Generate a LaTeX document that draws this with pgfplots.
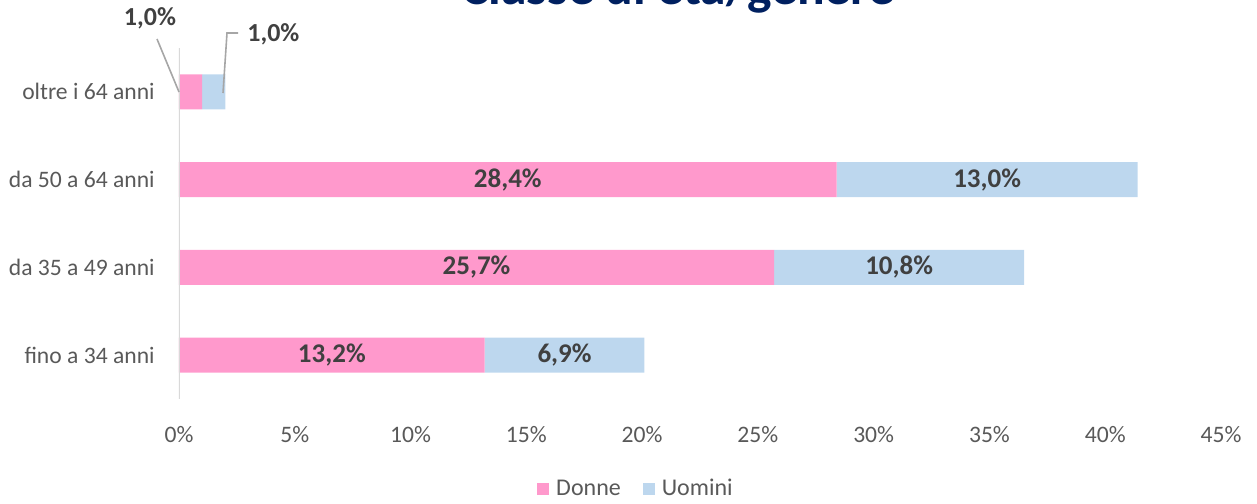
\documentclass[border=0pt]{standalone}
\usepackage{pgfplots}
\pgfplotsset{compat=1.18}
\usepackage{fontspec}
\setmainfont{Carlito}
\definecolor{donne}{HTML}{FF99CC}
\definecolor{uomini}{HTML}{BDD7EE}
\definecolor{txtgray}{HTML}{595959}
\definecolor{lblgray}{HTML}{404040}
\definecolor{axgray}{HTML}{D9D9D9}
\definecolor{leader}{HTML}{A6A6A6}
\definecolor{navy}{HTML}{002060}

\begin{document}
\begin{tikzpicture}
\useasboundingbox (-89.5pt,-52pt) rectangle (539pt,199.5pt);
\begin{axis}[
  scale only axis, width=521pt, height=175.5pt,
  xbar stacked, bar width=17.5pt,
  xmin=0, xmax=45, ymin=-0.5, ymax=3.5,
  axis line style={draw=none},
  major tick length=0pt,
  ytick={0,1,2,3},
  yticklabels={fino a 34 anni,da 35 a 49 anni,da 50 a 64 anni,oltre i 64 anni},
  xtick={0,5,...,45},
  xticklabel={\pgfmathprintnumber{\tick}\%},
  /pgf/number format/assume math mode=true,
  tick label style={font=\fontsize{11.8}{14}\selectfont, text=txtgray},
  xticklabel style={anchor=center, yshift=-18pt},
  yticklabel style={anchor=east, inner sep=0pt, xshift=-12pt},
  point meta=explicit symbolic,
  nodes near coords,
  every node near coord/.append style={anchor=center, font=\bfseries\fontsize{13.5}{16}\selectfont,
    text=lblgray},
  legend style={at={(axis description cs:0.4395,0)}, anchor=center, yshift=-45pt,
    draw=none, legend columns=2, font=\fontsize{12}{14}\selectfont, text=txtgray,
    /tikz/every even column/.append style={column sep=9pt}},
  legend image code/.code={\fill[#1] (0pt,-3pt) rectangle (6pt,3pt);},
]
\draw[axgray, line width=1pt] (axis cs:0,-0.5) -- (axis cs:0,3.5);
\addplot[fill=donne, draw=none] coordinates {
  (13.2,0) [13,2\%]
  (25.7,1) [25,7\%]
  (28.4,2) [28,4\%]
  (1.0,3) [{}]
};
\addplot[fill=uomini, draw=none] coordinates {
  (6.9,0) [6,9\%]
  (10.8,1) [10,8\%]
  (13.0,2) [13,0\%]
  (1.0,3) [{}]
};
\legend{\hspace{1.5pt}Donne,\hspace{1.5pt}Uomini}
\end{axis}
% title (cut at the top edge, as in the reference)
\node[anchor=base, font=\bfseries\fontsize{25.8}{30}\selectfont, text=navy] at (249.5pt,197pt) {Classe di età/genere};
% callouts for the smallest row
\draw[leader, line width=0.8pt] (-11pt,180pt) -- (0pt,153.5pt);
\node[font=\bfseries\fontsize{13}{16}\selectfont, text=lblgray] at (-14.5pt,190.5pt) {1,0\%};
\draw[leader, line width=0.8pt] (29.5pt,183pt) -- (24pt,183pt) -- (22pt,153pt);
\node[anchor=west, inner sep=0pt, font=\bfseries\fontsize{13}{16}\selectfont, text=lblgray] at (34pt,182.5pt) {1,0\%};
\end{tikzpicture}
\end{document}
